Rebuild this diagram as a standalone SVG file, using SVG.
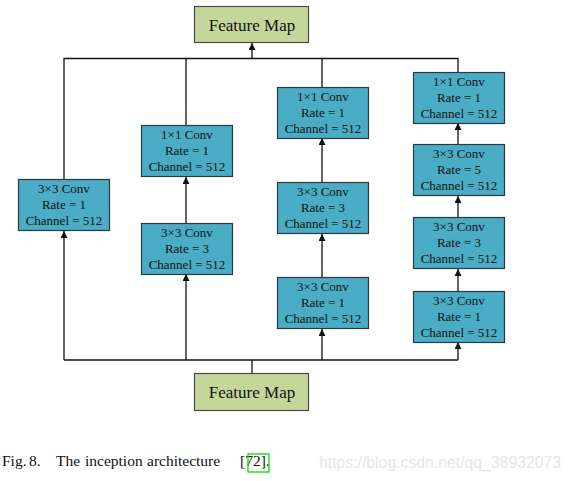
<svg xmlns="http://www.w3.org/2000/svg" width="572" height="481" viewBox="0 0 572 481">
<style>
.conv{fill:#4BACC6;stroke:#2b3a40;stroke-width:1.2}
.fm{fill:#C4D79B;stroke:#4a4a4a;stroke-width:1.2}
.t{font-family:"Liberation Serif","Times New Roman",serif;font-size:13px;fill:#111;text-anchor:middle}
.tf{font-family:"Liberation Serif","Times New Roman",serif;font-size:17px;fill:#111;text-anchor:middle}
.ln{fill:none;stroke:#111;stroke-width:1.3}
.cap{font-family:"Liberation Serif","Times New Roman",serif;font-size:15.5px;fill:#111}
</style>
<defs>
<marker id="ah" viewBox="0 0 10 10" refX="10" refY="5" markerWidth="7" markerHeight="7" markerUnits="userSpaceOnUse" orient="auto">
<path d="M0,0 L10,5 L0,10 z" fill="#111"/>
</marker>
</defs>
<rect width="572" height="481" fill="#fff"/>
<g id="connectors">
<polyline class="ln" points="64,179 64,58.5 458,58.5 458,72"/>
<line class="ln" x1="186" y1="58.5" x2="186" y2="125"/>
<line class="ln" x1="322" y1="58.5" x2="322" y2="87"/>
<line class="ln" x1="252" y1="58.5" x2="252" y2="43" stroke-width="2.2" marker-end="url(#ah)"/>
<polyline class="ln" points="64,360 458,360"/>
<line class="ln" x1="252" y1="373" x2="252" y2="360" stroke-width="2.2"/>
<line class="ln" x1="64" y1="360" x2="64" y2="231" marker-end="url(#ah)"/>
<line class="ln" x1="186" y1="360" x2="186" y2="274" marker-end="url(#ah)"/>
<line class="ln" x1="186" y1="223" x2="186" y2="177" marker-end="url(#ah)"/>
<line class="ln" x1="322" y1="360" x2="322" y2="329" marker-end="url(#ah)"/>
<line class="ln" x1="322" y1="277" x2="322" y2="234" marker-end="url(#ah)"/>
<line class="ln" x1="322" y1="182" x2="322" y2="138" marker-end="url(#ah)"/>
<line class="ln" x1="458" y1="360" x2="458" y2="342" marker-end="url(#ah)"/>
<line class="ln" x1="458" y1="291" x2="458" y2="269" marker-end="url(#ah)"/>
<line class="ln" x1="458" y1="217" x2="458" y2="196" marker-end="url(#ah)"/>
<line class="ln" x1="458" y1="144" x2="458" y2="123" marker-end="url(#ah)"/>
</g>
<g id="fm-top"><rect class="fm" x="194.5" y="6.5" width="114" height="36"/><text class="tf" x="252" y="31">Feature Map</text></g>
<g id="fm-bottom"><rect class="fm" x="194.5" y="373.5" width="114" height="37"/><text class="tf" x="252" y="398">Feature Map</text></g>
<g id="c1"><rect class="conv" x="18.5" y="179.5" width="91" height="51"/><text class="t" x="64" y="193">3×3 Conv</text><text class="t" x="64" y="209">Rate = 1</text><text class="t" x="64" y="224.5">Channel = 512</text></g>
<g id="c2a"><rect class="conv" x="141.5" y="125.5" width="91" height="51"/><text class="t" x="187" y="139">1×1 Conv</text><text class="t" x="187" y="155">Rate = 1</text><text class="t" x="187" y="170.5">Channel = 512</text></g>
<g id="c2b"><rect class="conv" x="141.5" y="223.5" width="91" height="51"/><text class="t" x="187" y="237">3×3 Conv</text><text class="t" x="187" y="253">Rate = 3</text><text class="t" x="187" y="268.5">Channel = 512</text></g>
<g id="c3a"><rect class="conv" x="277.5" y="87.5" width="91" height="51"/><text class="t" x="323" y="101">1×1 Conv</text><text class="t" x="323" y="117">Rate = 1</text><text class="t" x="323" y="132.5">Channel = 512</text></g>
<g id="c3b"><rect class="conv" x="277.5" y="182.5" width="91" height="51"/><text class="t" x="323" y="196">3×3 Conv</text><text class="t" x="323" y="212">Rate = 3</text><text class="t" x="323" y="227.5">Channel = 512</text></g>
<g id="c3c"><rect class="conv" x="277.5" y="277.5" width="91" height="51"/><text class="t" x="323" y="291">3×3 Conv</text><text class="t" x="323" y="307">Rate = 1</text><text class="t" x="323" y="322.5">Channel = 512</text></g>
<g id="c4a"><rect class="conv" x="413.5" y="72.5" width="91" height="51"/><text class="t" x="459" y="86">1×1 Conv</text><text class="t" x="459" y="102">Rate = 1</text><text class="t" x="459" y="117.5">Channel = 512</text></g>
<g id="c4b"><rect class="conv" x="413.5" y="144.5" width="91" height="51"/><text class="t" x="459" y="158">3×3 Conv</text><text class="t" x="459" y="174">Rate = 5</text><text class="t" x="459" y="189.5">Channel = 512</text></g>
<g id="c4c"><rect class="conv" x="413.5" y="217.5" width="91" height="51"/><text class="t" x="459" y="231">3×3 Conv</text><text class="t" x="459" y="247">Rate = 3</text><text class="t" x="459" y="262.5">Channel = 512</text></g>
<g id="c4d"><rect class="conv" x="413.5" y="291.5" width="91" height="51"/><text class="t" x="459" y="305">3×3 Conv</text><text class="t" x="459" y="321">Rate = 1</text><text class="t" x="459" y="336.5">Channel = 512</text></g>
<g id="caption">
<text class="cap" y="466"><tspan x="2">Fig.</tspan> <tspan x="29">8.</tspan> <tspan x="56">The</tspan> <tspan x="85">inception</tspan> <tspan x="147">architecture</tspan> <tspan x="240">[72].</tspan></text>
<rect x="248" y="454" width="21" height="18" fill="none" stroke="#00e000" stroke-width="1.3"/>
<text x="319" y="468" font-family="'Liberation Sans',Arial,sans-serif" font-size="16" fill="#e6e6e6" textLength="242" lengthAdjust="spacingAndGlyphs">https://blog.csdn.net/qq_38932073</text>
</g>
</svg>
